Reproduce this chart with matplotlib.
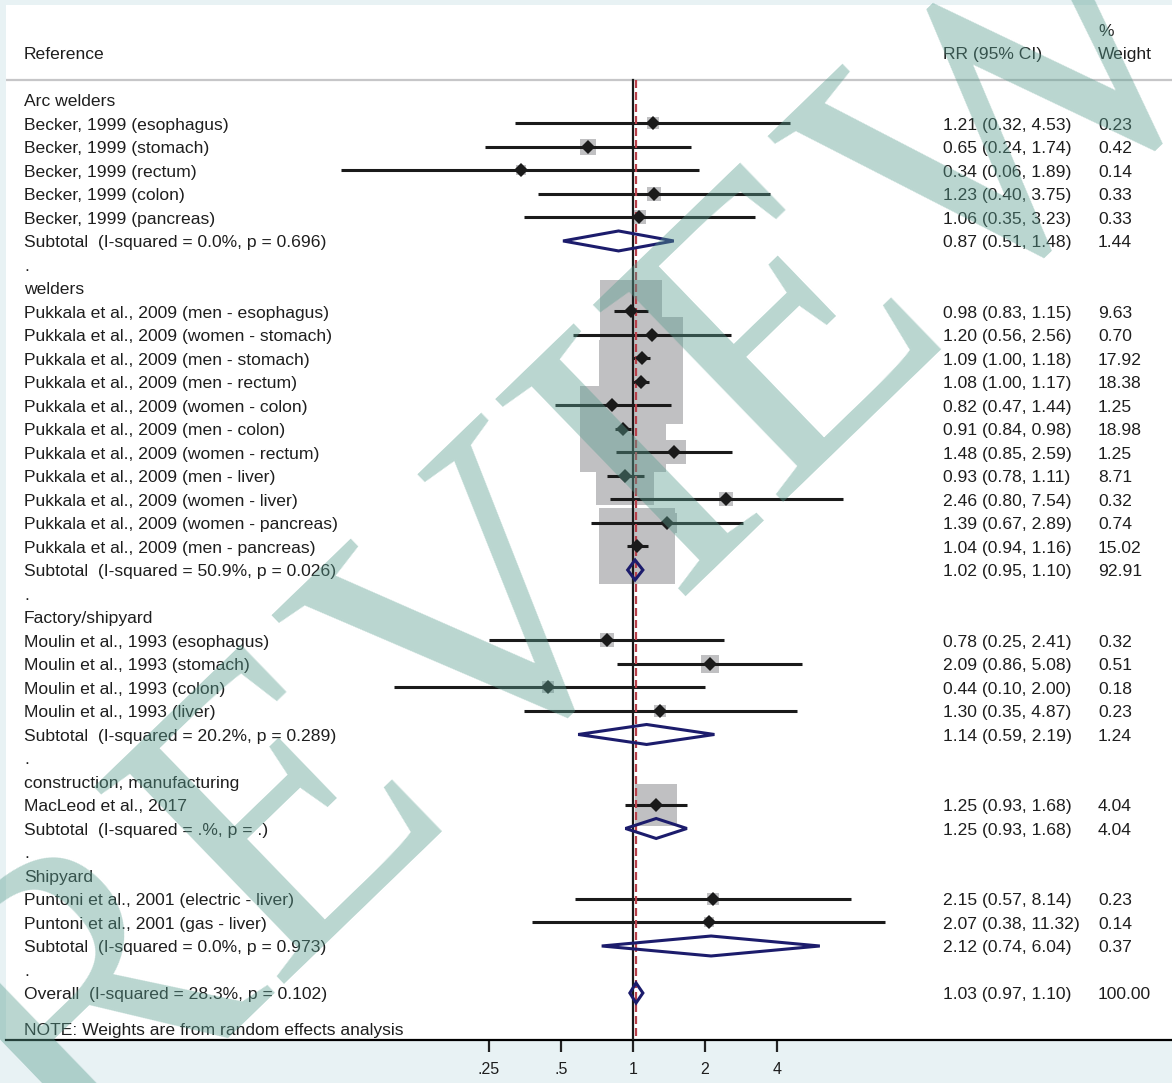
import numpy as np
import matplotlib.pyplot as plt
from matplotlib.patches import Polygon

nan = np.nan

# rows of the forest plot, top to bottom
row_kind = [
    'group', 'study', 'study', 'study', 'study', 'study', 'subtotal', 'blank',
    'group', 'study', 'study', 'study', 'study', 'study', 'study', 'study',
    'study', 'study', 'study', 'study', 'subtotal', 'blank',
    'group', 'study', 'study', 'study', 'study', 'subtotal', 'blank',
    'group', 'study', 'subtotal', 'blank',
    'group', 'study', 'study', 'subtotal', 'blank',
    'overall',
]
row_labels = [
    'Arc welders',
    'Becker, 1999 (esophagus)',
    'Becker, 1999 (stomach)',
    'Becker, 1999 (rectum)',
    'Becker, 1999 (colon)',
    'Becker, 1999 (pancreas)',
    'Subtotal  (I-squared = 0.0%, p = 0.696)',
    '.',
    'welders',
    'Pukkala et al., 2009 (men - esophagus)',
    'Pukkala et al., 2009 (women - stomach)',
    'Pukkala et al., 2009 (men - stomach)',
    'Pukkala et al., 2009 (men - rectum)',
    'Pukkala et al., 2009 (women - colon)',
    'Pukkala et al., 2009 (men - colon)',
    'Pukkala et al., 2009 (women - rectum)',
    'Pukkala et al., 2009 (men - liver)',
    'Pukkala et al., 2009 (women - liver)',
    'Pukkala et al., 2009 (women - pancreas)',
    'Pukkala et al., 2009 (men - pancreas)',
    'Subtotal  (I-squared = 50.9%, p = 0.026)',
    '.',
    'Factory/shipyard',
    'Moulin et al., 1993 (esophagus)',
    'Moulin et al., 1993 (stomach)',
    'Moulin et al., 1993 (colon)',
    'Moulin et al., 1993 (liver)',
    'Subtotal  (I-squared = 20.2%, p = 0.289)',
    '.',
    'construction, manufacturing',
    'MacLeod et al., 2017',
    'Subtotal  (I-squared = .%, p = .)',
    '.',
    'Shipyard',
    'Puntoni et al., 2001 (electric - liver)',
    'Puntoni et al., 2001 (gas - liver)',
    'Subtotal  (I-squared = 0.0%, p = 0.973)',
    '.',
    'Overall  (I-squared = 28.3%, p = 0.102)',
]
rr = [nan, 1.21, 0.65, 0.34, 1.23, 1.06, 0.87, nan,
      nan, 0.98, 1.20, 1.09, 1.08, 0.82, 0.91, 1.48, 0.93, 2.46, 1.39, 1.04, 1.02, nan,
      nan, 0.78, 2.09, 0.44, 1.30, 1.14, nan,
      nan, 1.25, 1.25, nan,
      nan, 2.15, 2.07, 2.12, nan,
      1.03]
ci_lo = [nan, 0.32, 0.24, 0.06, 0.40, 0.35, 0.51, nan,
         nan, 0.83, 0.56, 1.00, 1.00, 0.47, 0.84, 0.85, 0.78, 0.80, 0.67, 0.94, 0.95, nan,
         nan, 0.25, 0.86, 0.10, 0.35, 0.59, nan,
         nan, 0.93, 0.93, nan,
         nan, 0.57, 0.38, 0.74, nan,
         0.97]
ci_hi = [nan, 4.53, 1.74, 1.89, 3.75, 3.23, 1.48, nan,
         nan, 1.15, 2.56, 1.18, 1.17, 1.44, 0.98, 2.59, 1.11, 7.54, 2.89, 1.16, 1.10, nan,
         nan, 2.41, 5.08, 2.00, 4.87, 2.19, nan,
         nan, 1.68, 1.68, nan,
         nan, 8.14, 11.32, 6.04, nan,
         1.10]
weight = [nan, 0.23, 0.42, 0.14, 0.33, 0.33, 1.44, nan,
          nan, 9.63, 0.70, 17.92, 18.38, 1.25, 18.98, 1.25, 8.71, 0.32, 0.74, 15.02, 92.91, nan,
          nan, 0.32, 0.51, 0.18, 0.23, 1.24, nan,
          nan, 4.04, 4.04, nan,
          nan, 0.23, 0.14, 0.37, nan,
          100.00]

overall_rr = 1.03
tick_vals = [0.25, 0.5, 1, 2, 4]
tick_labels = ['.25', '.5', '1', '2', '4']

plt.rcParams['font.family'] = ['Liberation Sans', 'DejaVu Sans']
txt_size = 12.6
txt_col = '#1e1e1e'
navy = '#1c1c6c'

fig = plt.figure(figsize=(11.72, 10.83), dpi=100, facecolor='#e8f2f4')
ax = fig.add_axes([6 / 1172, 43 / 1083, 1166 / 1172, 1035 / 1083])
ax.set_facecolor('white')
ax.set_xscale('log', base=2)
ax.set_xlim(2 ** -8.708, 2 ** 7.486)
ax.set_ylim(40.0, -4.04)

for s in ['top', 'left', 'right']:
    ax.spines[s].set_visible(False)
ax.spines['bottom'].set_linewidth(1.6)
ax.set_yticks([])
ax.set_xticks(tick_vals)
ax.set_xticklabels(tick_labels)
ax.minorticks_off()
ax.tick_params(axis='x', length=8.5, width=1.6, pad=7, labelsize=11.5,
               color='#222222', labelcolor=txt_col)

y = np.arange(len(row_kind))
hdr = -0.85

# header rule, null line and overall estimate line
ax.axhline(hdr, color='#c6c6c8', lw=1.6, zorder=1)
ax.plot([1, 1], [hdr, 40], color='#1a1a1a', lw=1.6, zorder=4)
ax.plot([overall_rr, overall_rr], [hdr, 40], color='#b8404a', lw=1.6,
        dashes=(3.6, 1.8), zorder=4)

# study weight boxes, CI lines and point estimates
for i, k in enumerate(row_kind):
    if k != 'study':
        continue
    side = (4 + 18.6 * np.sqrt(weight[i])) * 0.72
    ax.plot(rr[i], y[i], 's', ms=side, color='#c0c0c2', mew=0, zorder=2)
for i, k in enumerate(row_kind):
    if k != 'study':
        continue
    ax.plot([ci_lo[i], ci_hi[i]], [y[i], y[i]], color='#1a1a1a', lw=2.2,
            solid_capstyle='butt', zorder=3)
    ax.plot(rr[i], y[i], 'D', ms=7.2, color='#1a1a1a', mew=0, zorder=5)

# pooled diamonds
for i, k in enumerate(row_kind):
    if k not in ('subtotal', 'overall'):
        continue
    h = 0.425
    poly = Polygon([[ci_lo[i], y[i]], [rr[i], y[i] - h], [ci_hi[i], y[i]], [rr[i], y[i] + h]],
                   closed=True, fill=False, ec=navy, lw=2.2, zorder=6)
    ax.add_patch(poly)

# text columns
tr = ax.get_yaxis_transform()
x_lab, x_rr, x_w = 0.0154, 0.8036, 0.9365
dy = 0.08
kw = dict(transform=tr, va='center', fontsize=txt_size, color=txt_col)
ax.text(x_lab, -2.0 + dy, 'Reference', **kw)
ax.text(x_rr, -2.0 + dy, 'RR (95% CI)', **kw)
ax.text(x_w, -2.98 + dy, '%', **kw)
ax.text(x_w, -2.0 + dy, 'Weight', **kw)
for i, k in enumerate(row_kind):
    ax.text(x_lab, y[i] + dy, row_labels[i], **kw)
    if k in ('study', 'subtotal', 'overall'):
        ax.text(x_rr, y[i] + dy, f'{rr[i]:.2f} ({ci_lo[i]:.2f}, {ci_hi[i]:.2f})', **kw)
        ax.text(x_w, y[i] + dy, f'{weight[i]:.2f}', **kw)
ax.text(x_lab, 39.5 + dy, 'NOTE: Weights are from random effects analysis', **kw)

# watermark
fig.text(0.5, 0.5, 'REVIEW', family='Liberation Serif', fontsize=300, rotation=44,
         rotation_mode='anchor', ha='center', va='center',
         color='#5a9e90', alpha=0.42, zorder=10)

fig.savefig('out.png', dpi=100, facecolor=fig.get_facecolor())
